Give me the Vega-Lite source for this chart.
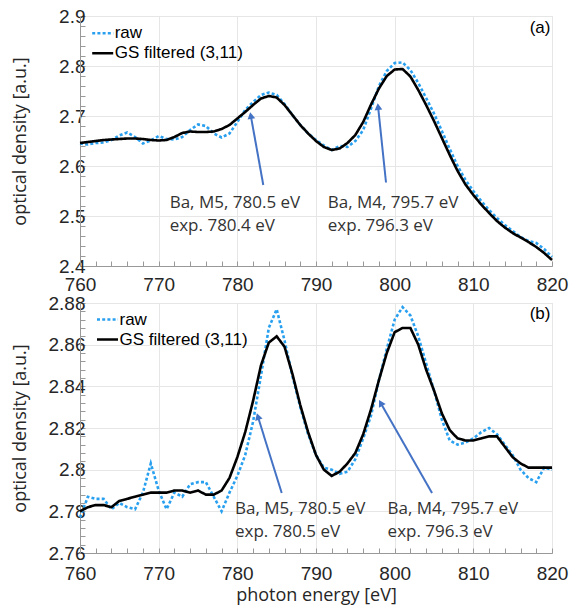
{
  "$schema": "https://vega.github.io/schema/vega-lite/v6.json",
  "padding": {"left": 10, "top": 6, "right": 18, "bottom": 0},
  "background": "white",
  "datasets": {
    "a": [
      {"E":760,"raw":2.645,"gs":2.646},{"E":761,"raw":2.643,"gs":2.648},{"E":762,"raw":2.646,"gs":2.650},{"E":763,"raw":2.647,"gs":2.652},{"E":764,"raw":2.652,"gs":2.653},{"E":765,"raw":2.661,"gs":2.654},{"E":766,"raw":2.667,"gs":2.655},{"E":767,"raw":2.658,"gs":2.655},{"E":768,"raw":2.645,"gs":2.654},{"E":769,"raw":2.651,"gs":2.652},{"E":770,"raw":2.660,"gs":2.651},
      {"E":771,"raw":2.654,"gs":2.652},{"E":772,"raw":2.653,"gs":2.658},{"E":773,"raw":2.658,"gs":2.666},{"E":774,"raw":2.672,"gs":2.669},{"E":775,"raw":2.683,"gs":2.668},{"E":776,"raw":2.680,"gs":2.668},{"E":777,"raw":2.665,"gs":2.669},{"E":778,"raw":2.657,"gs":2.674},{"E":779,"raw":2.665,"gs":2.682},{"E":780,"raw":2.688,"gs":2.695},
      {"E":781,"raw":2.712,"gs":2.708},{"E":782,"raw":2.728,"gs":2.722},{"E":783,"raw":2.742,"gs":2.735},{"E":784,"raw":2.747,"gs":2.740},{"E":785,"raw":2.742,"gs":2.737},{"E":786,"raw":2.724,"gs":2.722},{"E":787,"raw":2.702,"gs":2.702},{"E":788,"raw":2.682,"gs":2.682},{"E":789,"raw":2.665,"gs":2.665},{"E":790,"raw":2.652,"gs":2.650},
      {"E":791,"raw":2.641,"gs":2.638},{"E":792,"raw":2.632,"gs":2.632},{"E":793,"raw":2.640,"gs":2.635},{"E":794,"raw":2.638,"gs":2.646},{"E":795,"raw":2.650,"gs":2.662},{"E":796,"raw":2.672,"gs":2.688},{"E":797,"raw":2.715,"gs":2.723},{"E":798,"raw":2.760,"gs":2.755},{"E":799,"raw":2.790,"gs":2.780},{"E":800,"raw":2.806,"gs":2.793},
      {"E":801,"raw":2.807,"gs":2.794},{"E":802,"raw":2.792,"gs":2.779},{"E":803,"raw":2.766,"gs":2.752},{"E":804,"raw":2.736,"gs":2.722},{"E":805,"raw":2.705,"gs":2.690},{"E":806,"raw":2.670,"gs":2.656},{"E":807,"raw":2.634,"gs":2.622},{"E":808,"raw":2.600,"gs":2.590},{"E":809,"raw":2.572,"gs":2.563},{"E":810,"raw":2.550,"gs":2.542},
      {"E":811,"raw":2.530,"gs":2.523},{"E":812,"raw":2.512,"gs":2.506},{"E":813,"raw":2.496,"gs":2.490},{"E":814,"raw":2.482,"gs":2.477},{"E":815,"raw":2.470,"gs":2.466},{"E":816,"raw":2.458,"gs":2.457},{"E":817,"raw":2.450,"gs":2.448},{"E":818,"raw":2.446,"gs":2.438},{"E":819,"raw":2.434,"gs":2.426},{"E":820,"raw":2.418,"gs":2.412}
    ],
    "b": [
      {"E":760,"raw":2.777,"gs":2.780},{"E":761,"raw":2.787,"gs":2.782},{"E":762,"raw":2.786,"gs":2.783},{"E":763,"raw":2.786,"gs":2.783},{"E":764,"raw":2.781,"gs":2.782},{"E":765,"raw":2.784,"gs":2.785},{"E":766,"raw":2.782,"gs":2.786},{"E":767,"raw":2.781,"gs":2.787},{"E":768,"raw":2.789,"gs":2.788},{"E":769,"raw":2.803,"gs":2.789},{"E":770,"raw":2.790,"gs":2.789},
      {"E":771,"raw":2.781,"gs":2.789},{"E":772,"raw":2.789,"gs":2.790},{"E":773,"raw":2.787,"gs":2.790},{"E":774,"raw":2.793,"gs":2.789},{"E":775,"raw":2.794,"gs":2.790},{"E":776,"raw":2.794,"gs":2.788},{"E":777,"raw":2.787,"gs":2.788},{"E":778,"raw":2.780,"gs":2.790},{"E":779,"raw":2.789,"gs":2.796},{"E":780,"raw":2.797,"gs":2.806},
      {"E":781,"raw":2.807,"gs":2.818},{"E":782,"raw":2.823,"gs":2.833},{"E":783,"raw":2.845,"gs":2.850},{"E":784,"raw":2.868,"gs":2.861},{"E":785,"raw":2.877,"gs":2.864},{"E":786,"raw":2.862,"gs":2.859},{"E":787,"raw":2.845,"gs":2.846},{"E":788,"raw":2.830,"gs":2.831},{"E":789,"raw":2.817,"gs":2.818},{"E":790,"raw":2.807,"gs":2.807},
      {"E":791,"raw":2.801,"gs":2.800},{"E":792,"raw":2.800,"gs":2.797},{"E":793,"raw":2.798,"gs":2.799},{"E":794,"raw":2.799,"gs":2.803},{"E":795,"raw":2.805,"gs":2.808},{"E":796,"raw":2.815,"gs":2.817},{"E":797,"raw":2.826,"gs":2.829},{"E":798,"raw":2.843,"gs":2.843},{"E":799,"raw":2.858,"gs":2.856},{"E":800,"raw":2.872,"gs":2.866},
      {"E":801,"raw":2.878,"gs":2.868},{"E":802,"raw":2.874,"gs":2.868},{"E":803,"raw":2.864,"gs":2.860},{"E":804,"raw":2.851,"gs":2.848},{"E":805,"raw":2.838,"gs":2.838},{"E":806,"raw":2.824,"gs":2.827},{"E":807,"raw":2.814,"gs":2.819},{"E":808,"raw":2.812,"gs":2.815},{"E":809,"raw":2.813,"gs":2.814},{"E":810,"raw":2.815,"gs":2.814},
      {"E":811,"raw":2.818,"gs":2.815},{"E":812,"raw":2.820,"gs":2.816},{"E":813,"raw":2.817,"gs":2.816},{"E":814,"raw":2.812,"gs":2.811},{"E":815,"raw":2.807,"gs":2.806},{"E":816,"raw":2.800,"gs":2.803},{"E":817,"raw":2.796,"gs":2.801},{"E":818,"raw":2.794,"gs":2.801},{"E":819,"raw":2.801,"gs":2.801},{"E":820,"raw":2.800,"gs":2.801}
    ],
    "ann_a": [
      {"E":771.4,"v":2.516,"text":"Ba, M5, 780.5 eV"},
      {"E":771.4,"v":2.47,"text":"exp. 780.4 eV"},
      {"E":791.5,"v":2.516,"text":"Ba, M4, 795.7 eV"},
      {"E":791.5,"v":2.47,"text":"exp. 796.3 eV"}
    ],
    "ann_b": [
      {"E":779.7,"v":2.7788,"text":"Ba, M5, 780.5 eV"},
      {"E":779.7,"v":2.7677,"text":"exp. 780.5 eV"},
      {"E":799.1,"v":2.7788,"text":"Ba, M4, 795.7 eV"},
      {"E":799.1,"v":2.7677,"text":"exp. 796.3 eV"}
    ],
    "lab_a": [{"E":819.8,"v":2.866,"text":"(a)"}],
    "lab_b": [{"E":819.8,"v":2.8723,"text":"(b)"}],
    "arr_a": [
      {"E":783.3,"v":2.562,"E2":781.71,"v2":2.7008},
      {"E":798.9,"v":2.567,"E2":797.89,"v2":2.7186}
    ],
    "head_a": [
      {"E":781.71,"v":2.7008,"angle":349.7},
      {"E":797.89,"v":2.7186,"angle":353.8}
    ],
    "arr_b": [
      {"E":785.64,"v":2.7888,"E2":782.61,"v2":2.8255},
      {"E":804.75,"v":2.7888,"E2":798.22,"v2":2.832}
    ],
    "head_b": [
      {"E":782.61,"v":2.8255,"angle":342.6},
      {"E":798.22,"v":2.832,"angle":330.3}
    ]
  },
  "vconcat": [
    {
      "width": 472,
      "height": 250,
      "encoding": {
        "x": {"field": "E", "type": "quantitative", "scale": {"domain": [760, 820], "nice": false, "zero": false},
          "axis": {"title": null, "values": [760,762,764,766,768,770,772,774,776,778,780,782,784,786,788,790,792,794,796,798,800,802,804,806,808,810,812,814,816,818,820],
            "labelExpr": "datum.value % 10 === 0 ? datum.label : ''",
            "gridOpacity": {"condition": {"test": "datum.value % 10 !== 0", "value": 0}, "value": 1},
            "tickSize": -5, "labelPadding": 14.5, "labelOverlap": false, "labelFlush": false}},
        "y": {"field": "v", "type": "quantitative", "scale": {"domain": [2.4, 2.9], "nice": false, "zero": false},
          "axis": {"title": "optical density [a.u.]", "titleX": -55, "titleY": 125, "titleBaseline": "alphabetic", "titleAngle": -90, "titleAlign": "center",
            "values": [2.4,2.42,2.44,2.46,2.48,2.5,2.52,2.54,2.56,2.58,2.6,2.62,2.64,2.66,2.68,2.7,2.72,2.74,2.76,2.78,2.8,2.82,2.84,2.86,2.88,2.9],
            "labelExpr": "abs(datum.value*10 - round(datum.value*10)) < 0.001 ? format(datum.value, '.1f') : ''",
            "gridOpacity": {"condition": {"test": "abs(datum.value*10 - round(datum.value*10)) > 0.001", "value": 0}, "value": 1},
            "tickSize": -5, "labelPadding": 0, "labelOverlap": false, "labelFlush": false}}
      },
      "layer": [
        {
          "data": {"name": "a"},
          "transform": [{"fold": ["raw", "gs"], "as": ["s", "v"]}, {"filter": "datum.s === 'raw'"}],
          "mark": {"type": "line", "strokeWidth": 2.6, "strokeCap": "butt"},
          "encoding": {
            "color": {"datum": "raw", "scale": {"domain": ["raw", "GS filtered (3,11)"], "range": ["#28a0ef", "#000000"]},
              "legend": {"title": null, "orient": "none", "legendX": 10.7, "legendY": 5.2, "symbolType": "stroke", "symbolSize": 441, "symbolStrokeWidth": 2.6, "labelFont": "Liberation Sans", "labelFontSize": 17, "labelColor": "#000000", "labelOffset": 0, "rowPadding": 0, "padding": 0}},
            "strokeDash": {"datum": "raw", "scale": {"domain": ["raw", "GS filtered (3,11)"], "range": [[3, 2.2], [1, 0]]},
              "legend": {"title": null, "orient": "none", "legendX": 10.7, "legendY": 5.2, "symbolType": "stroke", "symbolSize": 441, "symbolStrokeWidth": 2.6, "labelFont": "Liberation Sans", "labelFontSize": 17, "labelColor": "#000000", "labelOffset": 0, "rowPadding": 0, "padding": 0}}
          }
        },
        {
          "data": {"name": "a"},
          "transform": [{"fold": ["raw", "gs"], "as": ["s", "v"]}, {"filter": "datum.s === 'gs'"}],
          "mark": {"type": "line", "strokeWidth": 2.6, "strokeCap": "butt"},
          "encoding": {
            "color": {"datum": "GS filtered (3,11)"},
            "strokeDash": {"datum": "GS filtered (3,11)"}
          }
        },
        {
          "data": {"name": "arr_a"},
          "mark": {"type": "rule", "color": "#4472c4", "strokeWidth": 2},
          "encoding": {"x2": {"field": "E2"}, "y2": {"field": "v2"}}
        },
        {
          "data": {"name": "head_a"},
          "mark": {"type": "point", "shape": "triangle-up", "filled": true, "size": 60, "color": "#4472c4", "opacity": 1},
          "encoding": {"angle": {"field": "angle", "type": "quantitative", "scale": null}}
        },
        {
          "data": {"name": "ann_a"},
          "mark": {"type": "text", "align": "left", "baseline": "alphabetic", "font": "Open Sans", "fontSize": 17, "color": "#333333"},
          "encoding": {"text": {"field": "text"}}
        },
        {
          "data": {"name": "lab_a"},
          "mark": {"type": "text", "align": "right", "baseline": "alphabetic", "font": "Liberation Sans", "fontSize": 17, "color": "#000000"},
          "encoding": {"text": {"field": "text"}}
        }
      ]
    },
    {
      "width": 472,
      "height": 250,
      "encoding": {
        "x": {"field": "E", "type": "quantitative", "scale": {"domain": [760, 820], "nice": false, "zero": false},
          "axis": {"title": "photon energy [eV]", "titleY": 47, "titleBaseline": "alphabetic",
            "values": [760,762,764,766,768,770,772,774,776,778,780,782,784,786,788,790,792,794,796,798,800,802,804,806,808,810,812,814,816,818,820],
            "labelExpr": "datum.value % 10 === 0 ? datum.label : ''",
            "gridOpacity": {"condition": {"test": "datum.value % 10 !== 0", "value": 0}, "value": 1},
            "tickSize": -5, "labelPadding": 16, "labelOverlap": false, "labelFlush": false}},
        "y": {"field": "v", "type": "quantitative", "scale": {"domain": [2.76, 2.88], "nice": false, "zero": false},
          "axis": {"title": "optical density [a.u.]", "titleX": -55, "titleY": 125, "titleBaseline": "alphabetic", "titleAngle": -90, "titleAlign": "center",
            "values": [2.76,2.764,2.768,2.772,2.776,2.78,2.784,2.788,2.792,2.796,2.8,2.804,2.808,2.812,2.816,2.82,2.824,2.828,2.832,2.836,2.84,2.844,2.848,2.852,2.856,2.86,2.864,2.868,2.872,2.876,2.88],
            "labelExpr": "abs(datum.value*50 - round(datum.value*50)) < 0.001 ? format(datum.value, '.2~f') : ''",
            "gridOpacity": {"condition": {"test": "abs(datum.value*50 - round(datum.value*50)) > 0.001", "value": 0}, "value": 1},
            "tickSize": -5, "labelPadding": 0, "labelOverlap": false, "labelFlush": false}}
      },
      "layer": [
        {
          "data": {"name": "b"},
          "transform": [{"fold": ["raw", "gs"], "as": ["s", "v"]}, {"filter": "datum.s === 'raw'"}],
          "mark": {"type": "line", "strokeWidth": 2.6, "strokeCap": "butt"},
          "encoding": {
            "color": {"datum": "raw", "scale": {"domain": ["raw", "GS filtered (3,11)"], "range": ["#28a0ef", "#000000"]},
              "legend": {"title": null, "orient": "none", "legendX": 15.5, "legendY": 4.5, "symbolType": "stroke", "symbolSize": 441, "symbolStrokeWidth": 2.6, "labelFont": "Liberation Sans", "labelFontSize": 17, "labelColor": "#000000", "labelOffset": 0, "rowPadding": 0, "padding": 0}},
            "strokeDash": {"datum": "raw", "scale": {"domain": ["raw", "GS filtered (3,11)"], "range": [[3, 2.2], [1, 0]]},
              "legend": {"title": null, "orient": "none", "legendX": 15.5, "legendY": 4.5, "symbolType": "stroke", "symbolSize": 441, "symbolStrokeWidth": 2.6, "labelFont": "Liberation Sans", "labelFontSize": 17, "labelColor": "#000000", "labelOffset": 0, "rowPadding": 0, "padding": 0}}
          }
        },
        {
          "data": {"name": "b"},
          "transform": [{"fold": ["raw", "gs"], "as": ["s", "v"]}, {"filter": "datum.s === 'gs'"}],
          "mark": {"type": "line", "strokeWidth": 2.6, "strokeCap": "butt"},
          "encoding": {
            "color": {"datum": "GS filtered (3,11)"},
            "strokeDash": {"datum": "GS filtered (3,11)"}
          }
        },
        {
          "data": {"name": "arr_b"},
          "mark": {"type": "rule", "color": "#4472c4", "strokeWidth": 2},
          "encoding": {"x2": {"field": "E2"}, "y2": {"field": "v2"}}
        },
        {
          "data": {"name": "head_b"},
          "mark": {"type": "point", "shape": "triangle-up", "filled": true, "size": 60, "color": "#4472c4", "opacity": 1},
          "encoding": {"angle": {"field": "angle", "type": "quantitative", "scale": null}}
        },
        {
          "data": {"name": "ann_b"},
          "mark": {"type": "text", "align": "left", "baseline": "alphabetic", "font": "Open Sans", "fontSize": 17, "color": "#333333"},
          "encoding": {"text": {"field": "text"}}
        },
        {
          "data": {"name": "lab_b"},
          "mark": {"type": "text", "align": "right", "baseline": "alphabetic", "font": "Liberation Sans", "fontSize": 17, "color": "#000000"},
          "encoding": {"text": {"field": "text"}}
        }
      ]
    }
  ],
  "spacing": 37,
  "bounds": "flush",
  "resolve": {"scale": {"color": "independent", "strokeDash": "independent"}},
  "config": {
    "view": {"stroke": "#d9d9d9"},
    "axis": {"gridColor": "#e6e6e6", "labelFont": "Liberation Sans", "labelFontSize": 19, "labelColor": "#262626",
      "titleFont": "Open Sans", "titleFontSize": 18, "titleFontWeight": "normal", "titleColor": "#262626",
      "domainColor": "#999999", "tickColor": "#999999", "labelFlush": false, "labelOverlap": false, "labelBound": false}
  }
}
